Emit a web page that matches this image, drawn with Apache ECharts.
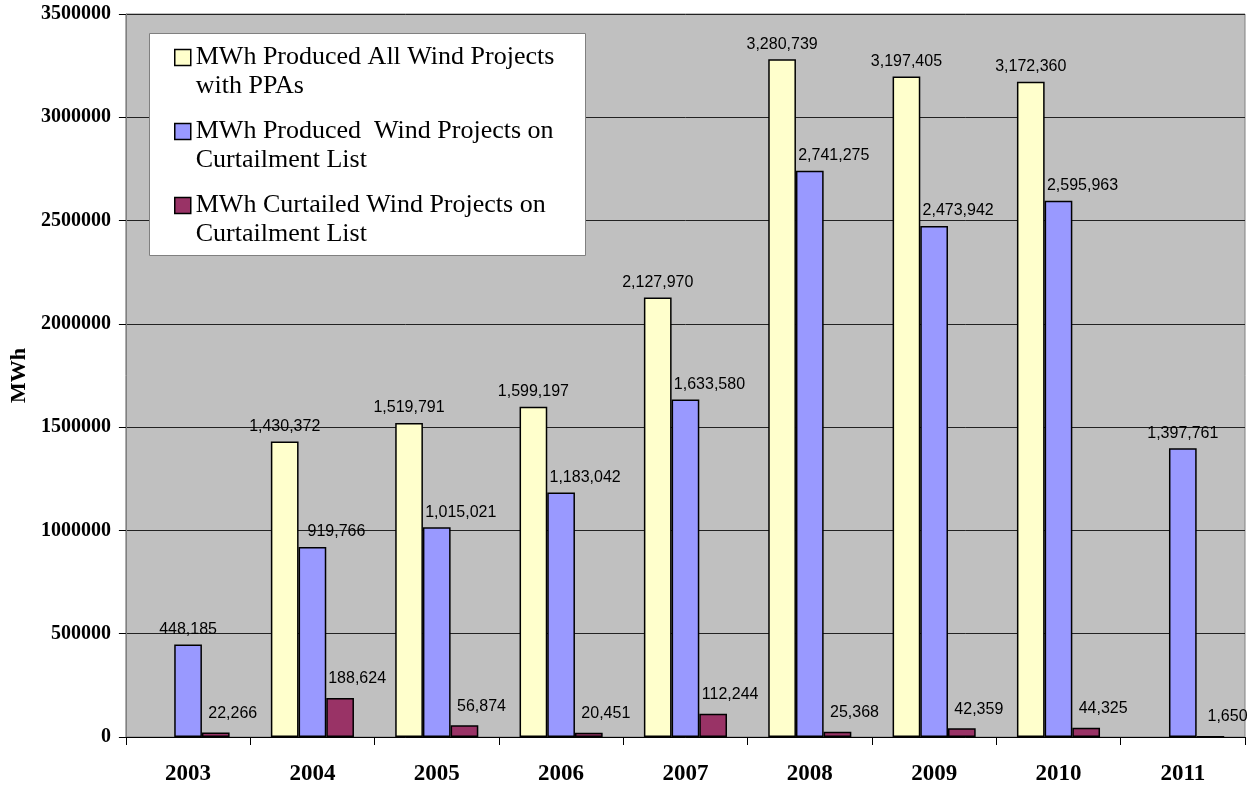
<!DOCTYPE html>
<html>
<head>
<meta charset="utf-8">
<script src="https://cdn.jsdelivr.net/npm/echarts@6/dist/echarts.min.js"></script>
<style>
html,body{margin:0;padding:0;background:#fff;}
#chart{width:1249px;height:786px;}
</style>
</head>
<body>
<div id="chart"></div>
<script>
const years = ['2003','2004','2005','2006','2007','2008','2009','2010','2011'];
const seriesNames = [
  'MWh Produced All Wind Projects\nwith PPAs',
  'MWh Produced  Wind Projects on\nCurtailment List',
  'MWh Curtailed Wind Projects on\nCurtailment List'
];
const producedAllPPA = [null, 1430372, 1519791, 1599197, 2127970, 3280739, 3197405, 3172360, null];
const producedCurtList = [448185, 919766, 1015021, 1183042, 1633580, 2741275, 2473942, 2595963, 1397761];
const curtailedCurtList = [22266, 188624, 56874, 20451, 112244, 25368, 42359, 44325, 1650];
const yTicks = { min: 0, max: 3500000, interval: 500000 };

const chart = echarts.init(document.getElementById('chart'), null, {renderer: 'canvas'});
const serif = '"Liberation Serif", "Times New Roman", serif';
const sans = '"Liberation Sans", Arial, sans-serif';
const fmt = v => (v == null ? '' : Number(v).toLocaleString('en-US'));
const colors = ['#FFFFCC', '#9999FF', '#993366'];
const barW = 27.7;

function baseLabel(extra) {
  return Object.assign({
    show: true, position: 'top', distance: 7,
    color: '#000', fontFamily: sans, fontSize: 16,
    formatter: p => fmt(p.value)
  }, extra || {});
}

const option = {
  animation: false,
  backgroundColor: '#ffffff',
  grid: {
    left: 123, right: 4, top: 14, bottom: 49,
    show: true, backgroundColor: '#c0c0c0', borderColor: '#808080', borderWidth: 1,
    containLabel: false
  },
  graphic: [{
    type: 'rect', z: 3, left: 149, top: 33,
    shape: {width: 436, height: 222},
    style: {fill: '#ffffff', stroke: '#808080', lineWidth: 1}
  }],
  legend: {
    orient: 'vertical', left: 174, top: 14, padding: 0,
    itemWidth: 16, itemHeight: 16, itemGap: -13, z: 5,
    icon: 'rect',
    data: seriesNames,
    formatter: name => '\n' + name,
    textStyle: {
      fontFamily: serif, fontSize: 26, color: '#000', lineHeight: 29
    },
    itemStyle: {borderColor: '#000', borderWidth: 1.5}
  },
  xAxis: {
    type: 'category', data: years, boundaryGap: true,
    axisLine: {show: true, lineStyle: {color: '#000', width: 1}},
    axisTick: {show: true, length: 8, lineStyle: {color: '#000'}, alignWithLabel: false},
    axisLabel: {fontFamily: serif, fontWeight: 'bold', fontSize: 23, color: '#000', margin: 26},
    splitLine: {show: false}
  },
  yAxis: {
    type: 'value', min: yTicks.min, max: yTicks.max, interval: yTicks.interval,
    name: 'MWh', nameLocation: 'middle', nameGap: 95, nameRotate: 90,
    nameTextStyle: {fontFamily: serif, fontWeight: 'bold', fontSize: 22, color: '#000'},
    axisLine: {show: true, lineStyle: {color: '#808080'}},
    axisTick: {show: true, length: 7, lineStyle: {color: '#000'}},
    axisLabel: {fontFamily: serif, fontWeight: 'bold', fontSize: 20, color: '#000', margin: 15,
      formatter: v => String(v)},
    splitLine: {show: true, lineStyle: {color: '#222', width: 1}}
  },
  series: [
    {
      name: seriesNames[0], type: 'bar', data: producedAllPPA,
      barWidth: barW, barGap: '0%',
      itemStyle: {color: colors[0], borderColor: '#000', borderWidth: 1.5},
      label: baseLabel()
    },
    {
      name: seriesNames[1], type: 'bar', barWidth: barW, barGap: '0%',
      data: producedCurtList.map((v, i) => ({
        value: v,
        label: {offset: [producedAllPPA[i] == null ? 0 : 24, 0]}
      })),
      itemStyle: {color: colors[1], borderColor: '#000', borderWidth: 1.5},
      label: baseLabel()
    },
    {
      name: seriesNames[2], type: 'bar', data: curtailedCurtList,
      barWidth: barW, barGap: '0%',
      itemStyle: {color: colors[2], borderColor: '#000', borderWidth: 1.5},
      label: baseLabel({offset: [17, -4]})
    }
  ]
};
chart.setOption(option);
</script>
</body>
</html>
